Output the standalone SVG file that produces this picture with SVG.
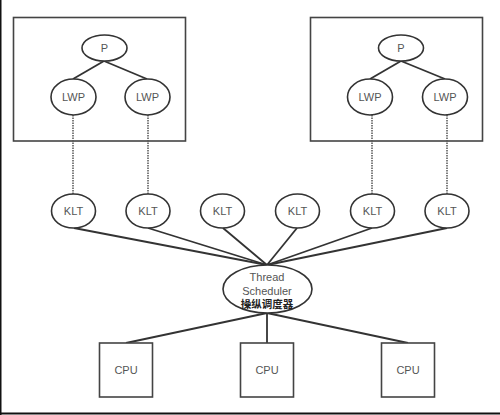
<svg xmlns="http://www.w3.org/2000/svg" width="500" height="415" viewBox="0 0 500 415">
<style>
.box{fill:none;stroke:#444;stroke-width:1.6}
.node ellipse{fill:#fff;stroke:#333;stroke-width:1.6}
.node rect{fill:#fff;stroke:#444;stroke-width:1.6}
.lbl{font-family:"Liberation Sans",Arial,sans-serif;font-size:11px;fill:#555;text-anchor:middle;dominant-baseline:central}
.cjk{font-family:"Noto Sans CJK SC","Liberation Sans",sans-serif;font-size:10.5px;fill:#222;font-weight:bold;text-anchor:middle;dominant-baseline:central}
.edge{stroke:#333;stroke-width:1.8;fill:none}
.dash{stroke:#555;stroke-width:1.5;stroke-dasharray:1.5,1;fill:none}
</style>
<rect width="500" height="415" fill="#fff"/>
<line x1="0.75" y1="0" x2="0.75" y2="415" stroke="#111" stroke-width="1.5"/>
<line x1="0" y1="413.5" x2="500" y2="413.5" stroke="#111" stroke-width="2"/>
<g id="process1"><rect class="box" x="13.5" y="17.5" width="172" height="123.5"/></g>
<g id="process2"><rect class="box" x="310.5" y="17.5" width="172" height="123.5"/></g>
<g id="connectors">
<line class="edge" x1="104" y1="61" x2="73" y2="79"/>
<line class="edge" x1="104" y1="61" x2="147" y2="79"/>
<line class="edge" x1="401" y1="61" x2="370" y2="79"/>
<line class="edge" x1="401" y1="61" x2="445" y2="79"/>
<line class="dash" x1="73" y1="115" x2="73" y2="194"/>
<line class="dash" x1="148" y1="115" x2="148" y2="194"/>
<line class="dash" x1="372" y1="115" x2="372" y2="194"/>
<line class="dash" x1="447" y1="115" x2="447" y2="194"/>
<line class="edge" x1="74" y1="228" x2="267" y2="265"/>
<line class="edge" x1="148" y1="228" x2="267" y2="265"/>
<line class="edge" x1="223" y1="228" x2="267" y2="265"/>
<line class="edge" x1="297" y1="228" x2="267" y2="265"/>
<line class="edge" x1="372" y1="228" x2="267" y2="265"/>
<line class="edge" x1="447" y1="228" x2="267" y2="265"/>
<line class="edge" x1="267" y1="313" x2="126" y2="343"/>
<line class="edge" x1="267" y1="313" x2="267" y2="343"/>
<line class="edge" x1="267" y1="313" x2="408" y2="343"/>
</g>
<g id="p1" class="node"><ellipse cx="104.5" cy="48" rx="22.5" ry="13"/><text class="lbl" x="104.5" y="48">P</text></g>
<g id="lwp1" class="node"><ellipse cx="73.5" cy="97" rx="22.5" ry="18"/><text class="lbl" x="73.5" y="97">LWP</text></g>
<g id="lwp2" class="node"><ellipse cx="147.5" cy="97" rx="22.5" ry="18"/><text class="lbl" x="147.5" y="97">LWP</text></g>
<g id="p2" class="node"><ellipse cx="401" cy="48" rx="22.5" ry="13"/><text class="lbl" x="401" y="48">P</text></g>
<g id="lwp3" class="node"><ellipse cx="370" cy="97" rx="22.5" ry="18"/><text class="lbl" x="370" y="97">LWP</text></g>
<g id="lwp4" class="node"><ellipse cx="445" cy="97" rx="22.5" ry="18"/><text class="lbl" x="445" y="97">LWP</text></g>
<g id="klt1" class="node"><ellipse cx="73.5" cy="211" rx="22" ry="17"/><text class="lbl" x="73.5" y="211">KLT</text></g>
<g id="klt2" class="node"><ellipse cx="148" cy="211" rx="22" ry="17"/><text class="lbl" x="148" y="211">KLT</text></g>
<g id="klt3" class="node"><ellipse cx="222.5" cy="211" rx="22" ry="17"/><text class="lbl" x="222.5" y="211">KLT</text></g>
<g id="klt4" class="node"><ellipse cx="297.5" cy="211" rx="22" ry="17"/><text class="lbl" x="297.5" y="211">KLT</text></g>
<g id="klt5" class="node"><ellipse cx="372.5" cy="211" rx="22" ry="17"/><text class="lbl" x="372.5" y="211">KLT</text></g>
<g id="klt6" class="node"><ellipse cx="447" cy="211" rx="22" ry="17"/><text class="lbl" x="447" y="211">KLT</text></g>
<g id="scheduler" class="node"><ellipse cx="267.5" cy="289" rx="44.5" ry="24"/>
<text class="lbl" x="267" y="277">Thread</text>
<text class="lbl" x="267" y="291">Scheduler</text>
<text class="cjk" x="267" y="303">操纵调度器</text></g>
<g id="cpu1" class="node"><rect x="99.5" y="343" width="53" height="54"/><text class="lbl" x="126" y="370">CPU</text></g>
<g id="cpu2" class="node"><rect x="240.5" y="343" width="53" height="54"/><text class="lbl" x="267" y="370">CPU</text></g>
<g id="cpu3" class="node"><rect x="381.5" y="343" width="53" height="54"/><text class="lbl" x="408" y="370">CPU</text></g>
</svg>
